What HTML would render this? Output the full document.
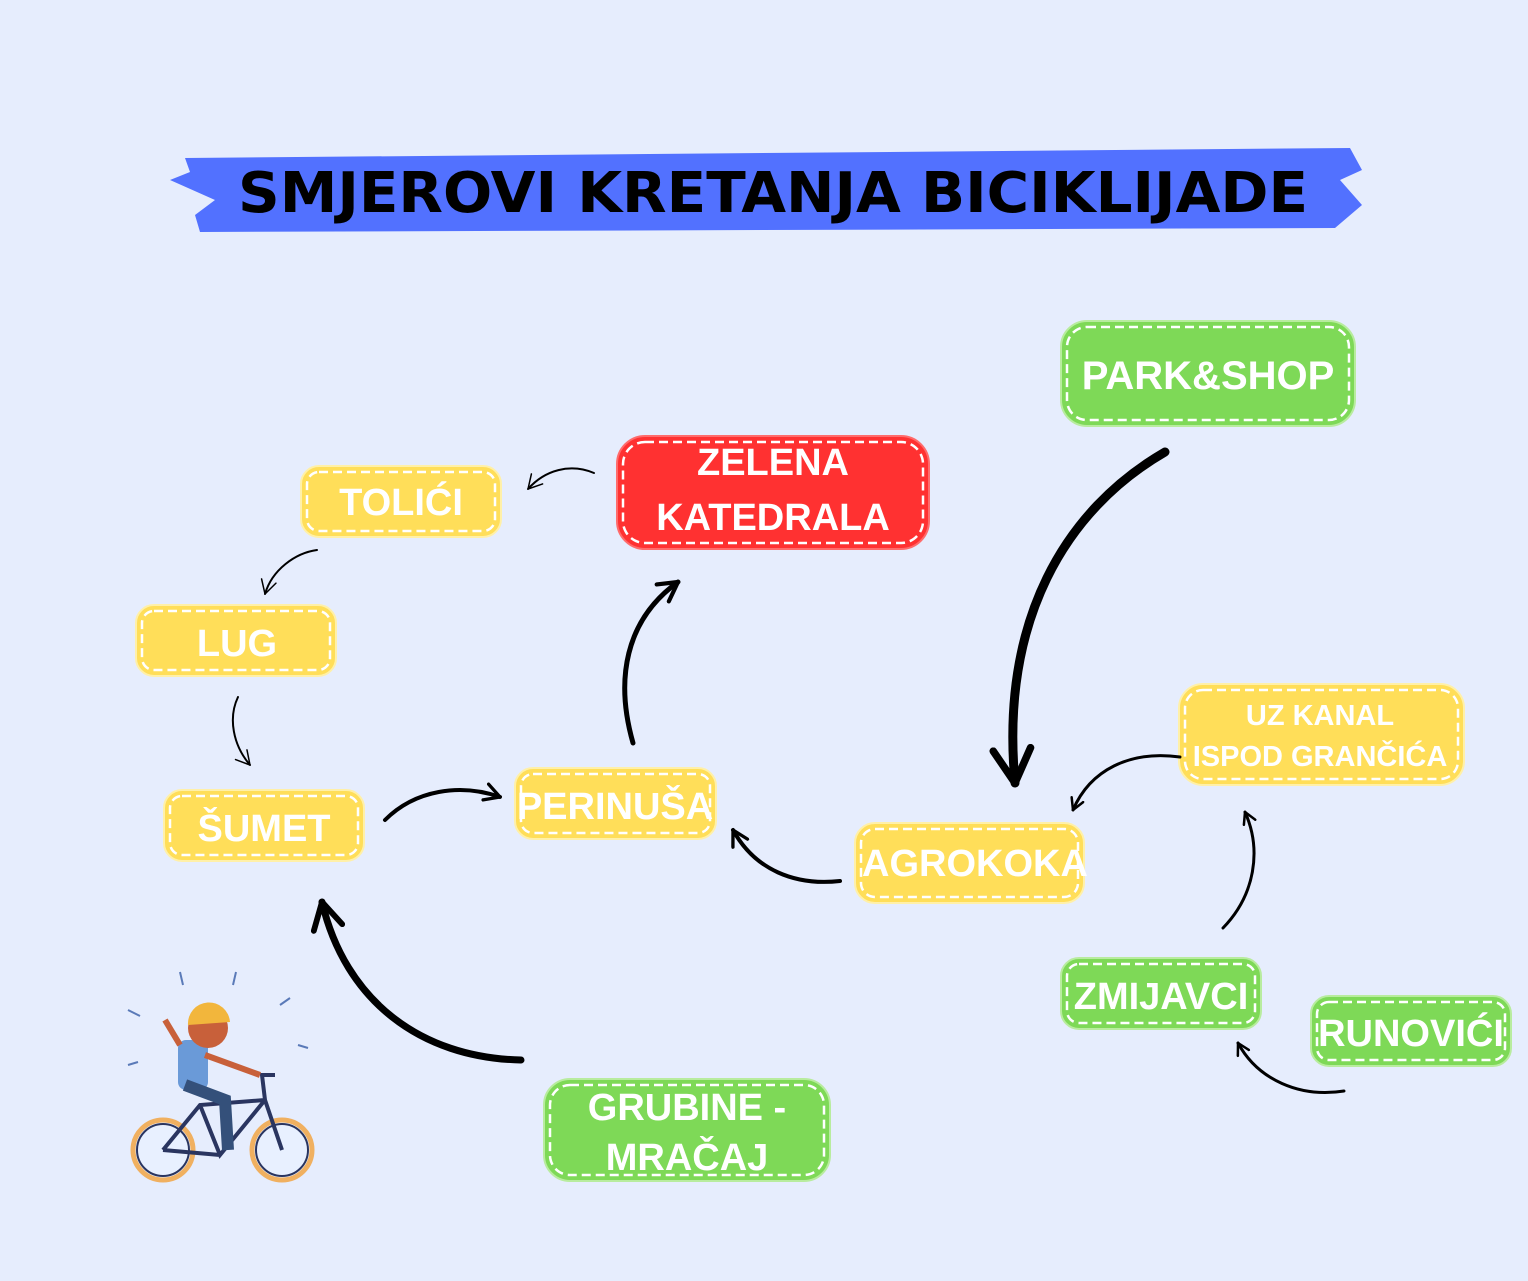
<!DOCTYPE html>
<html><head><meta charset="utf-8"><style>
html,body{margin:0;padding:0;background:#e6edfd}
svg{display:block}
.t{font-family:"Liberation Sans",sans-serif;font-weight:bold;fill:#fff;text-anchor:middle}
</style></head><body>
<svg width="1528" height="1281" viewBox="0 0 1528 1281" xmlns="http://www.w3.org/2000/svg">
<defs>
<marker id="a" viewBox="0 0 12 12" refX="10" refY="6" markerWidth="5" markerHeight="5" orient="auto" markerUnits="strokeWidth">
<path d="M1,1 L10,6 L1,11" fill="none" stroke="#000" stroke-width="2" stroke-linecap="round" stroke-linejoin="round"/></marker>
<marker id="b" viewBox="0 0 12 12" refX="10" refY="6" markerWidth="9" markerHeight="9" orient="auto" markerUnits="strokeWidth">
<path d="M1,1 L10,6 L1,11" fill="none" stroke="#000" stroke-width="1" stroke-linecap="round" stroke-linejoin="round"/></marker>
</defs>
<rect width="1528" height="1281" fill="#e6edfd"/>
<path d="M185,158 L1350,148 L1362,170 L1340,180 L1362,205 L1335,228 L200,232 L195,215 L215,200 L170,180 L190,172 Z" fill="#5271ff"/>
<text x="773" y="212" font-family="'DejaVu Sans','Liberation Sans',sans-serif" font-weight="bold" font-size="56" text-anchor="middle" fill="#000" textLength="1070" lengthAdjust="spacingAndGlyphs">SMJEROVI KRETANJA BICIKLIJADE</text>

<g stroke-width="2">
<rect x="1061" y="321" width="294" height="105" rx="26" fill="#7ed957" stroke="#b8ec9e"/>
<rect x="617" y="436" width="312" height="113" rx="28" fill="#ff3131" stroke="#ff6b6b"/>
<rect x="301" y="466" width="200" height="71" rx="18" fill="#ffde59" stroke="#fff0a8"/>
<rect x="136" y="605" width="200" height="71" rx="18" fill="#ffde59" stroke="#fff0a8"/>
<rect x="164" y="790" width="200" height="71" rx="18" fill="#ffde59" stroke="#fff0a8"/>
<rect x="515" y="768" width="201" height="71" rx="18" fill="#ffde59" stroke="#fff0a8"/>
<rect x="855" y="823" width="229" height="80" rx="20" fill="#ffde59" stroke="#fff0a8"/>
<rect x="1179" y="684" width="285" height="101" rx="24" fill="#ffde59" stroke="#fff0a8"/>
<rect x="1061" y="958" width="200" height="71" rx="18" fill="#7ed957" stroke="#b8ec9e"/>
<rect x="1311" y="996" width="200" height="70" rx="18" fill="#7ed957" stroke="#b8ec9e"/>
<rect x="544" y="1079" width="286" height="102" rx="26" fill="#7ed957" stroke="#b8ec9e"/>
</g>
<g stroke-width="2.5" stroke="#fff" stroke-dasharray="9 5" fill="none">
<rect x="1067" y="327" width="282" height="93" rx="20"/>
<rect x="623" y="442" width="300" height="101" rx="22"/>
<rect x="307" y="472" width="188" height="59" rx="12"/>
<rect x="142" y="611" width="188" height="59" rx="12"/>
<rect x="170" y="796" width="188" height="59" rx="12"/>
<rect x="521" y="774" width="189" height="59" rx="12"/>
<rect x="861" y="829" width="217" height="68" rx="14"/>
<rect x="1185" y="690" width="273" height="89" rx="18"/>
<rect x="1067" y="964" width="188" height="59" rx="12"/>
<rect x="1317" y="1002" width="188" height="58" rx="12"/>
<rect x="550" y="1085" width="274" height="90" rx="20"/>
</g>
<g class="t" font-size="38">
<text x="1208" y="389" font-size="40">PARK&amp;SHOP</text>
<text x="773" y="475">ZELENA</text>
<text x="773" y="530">KATEDRALA</text>
<text x="401" y="515">TOLIĆI</text>
<text x="237" y="656">LUG</text>
<text x="264" y="841">ŠUMET</text>
<text x="615" y="819">PERINUŠA</text>
<text x="975" y="876">AGROKOKA</text>
<text x="1320" y="725" font-size="29">UZ KANAL</text>
<text x="1320" y="766" font-size="29">ISPOD GRANČIĆA</text>
<text x="1161" y="1009">ZMIJAVCI</text>
<text x="1411" y="1046">RUNOVIĆI</text>
<text x="687" y="1120">GRUBINE -</text>
<text x="687" y="1170">MRAČAJ</text>
</g>
<g fill="none" stroke="#000" stroke-linecap="round">
<path d="M594,473 C570,463 545,470 528,489" stroke-width="2" marker-end="url(#b)"/>
<path d="M317,550 C295,553 272,570 265,594" stroke-width="2" marker-end="url(#b)"/>
<path d="M238,697 C228,718 233,745 250,765" stroke-width="2" marker-end="url(#b)"/>
<path d="M385,820 C415,790 460,783 500,797" stroke-width="4" marker-end="url(#a)"/>
<path d="M633,743 C615,680 625,620 678,582" stroke-width="5" marker-end="url(#a)"/>
<path d="M840,881 C795,886 755,870 733,830" stroke-width="4" marker-end="url(#a)"/>
<path d="M1165,452 C1065,510 1000,620 1015,783" stroke-width="9" marker-end="url(#a)"/>
<path d="M1180,757 C1130,750 1090,770 1073,810" stroke-width="3" marker-end="url(#a)"/>
<path d="M1223,928 C1255,895 1262,850 1245,812" stroke-width="3" marker-end="url(#a)"/>
<path d="M1344,1091 C1300,1098 1258,1080 1238,1043" stroke-width="3" marker-end="url(#a)"/>
<path d="M521,1060 C420,1058 345,1000 322,902" stroke-width="7" marker-end="url(#a)"/>
</g>
<g>
<circle cx="163" cy="1150" r="30" fill="none" stroke="#f0b060" stroke-width="5"/>
<circle cx="163" cy="1150" r="26" fill="#e8f0ff" stroke="#2a3560" stroke-width="2"/>
<circle cx="282" cy="1150" r="30" fill="none" stroke="#f0b060" stroke-width="5"/>
<circle cx="282" cy="1150" r="26" fill="#e8f0ff" stroke="#2a3560" stroke-width="2"/>
<path d="M163,1150 L200,1105 L265,1100 L282,1150 M200,1105 L220,1155 L265,1100 M220,1155 L163,1150 M265,1100 L262,1075 L275,1075" fill="none" stroke="#2a3560" stroke-width="4"/>
<rect x="178" y="1040" width="30" height="50" rx="8" fill="#6a9ad8"/>
<path d="M185,1085 L225,1100 L228,1150" fill="none" stroke="#34507a" stroke-width="12"/>
<circle cx="208" cy="1028" r="20" fill="#c8603a"/>
<path d="M188,1025 A20,20 0 0 1 230,1022 Z" fill="#f2b63c"/>
<path d="M180,1045 L165,1020" stroke="#c8603a" stroke-width="6"/>
<path d="M205,1055 L260,1075" stroke="#c8603a" stroke-width="6"/>
<g stroke="#5a7ab8" stroke-width="2"><path d="M180,972 L183,985 M236,972 L233,985 M128,1010 L140,1016 M280,1005 L290,998 M298,1045 L308,1048 M128,1065 L138,1062"/></g>
</g>
</svg>
</body></html>
